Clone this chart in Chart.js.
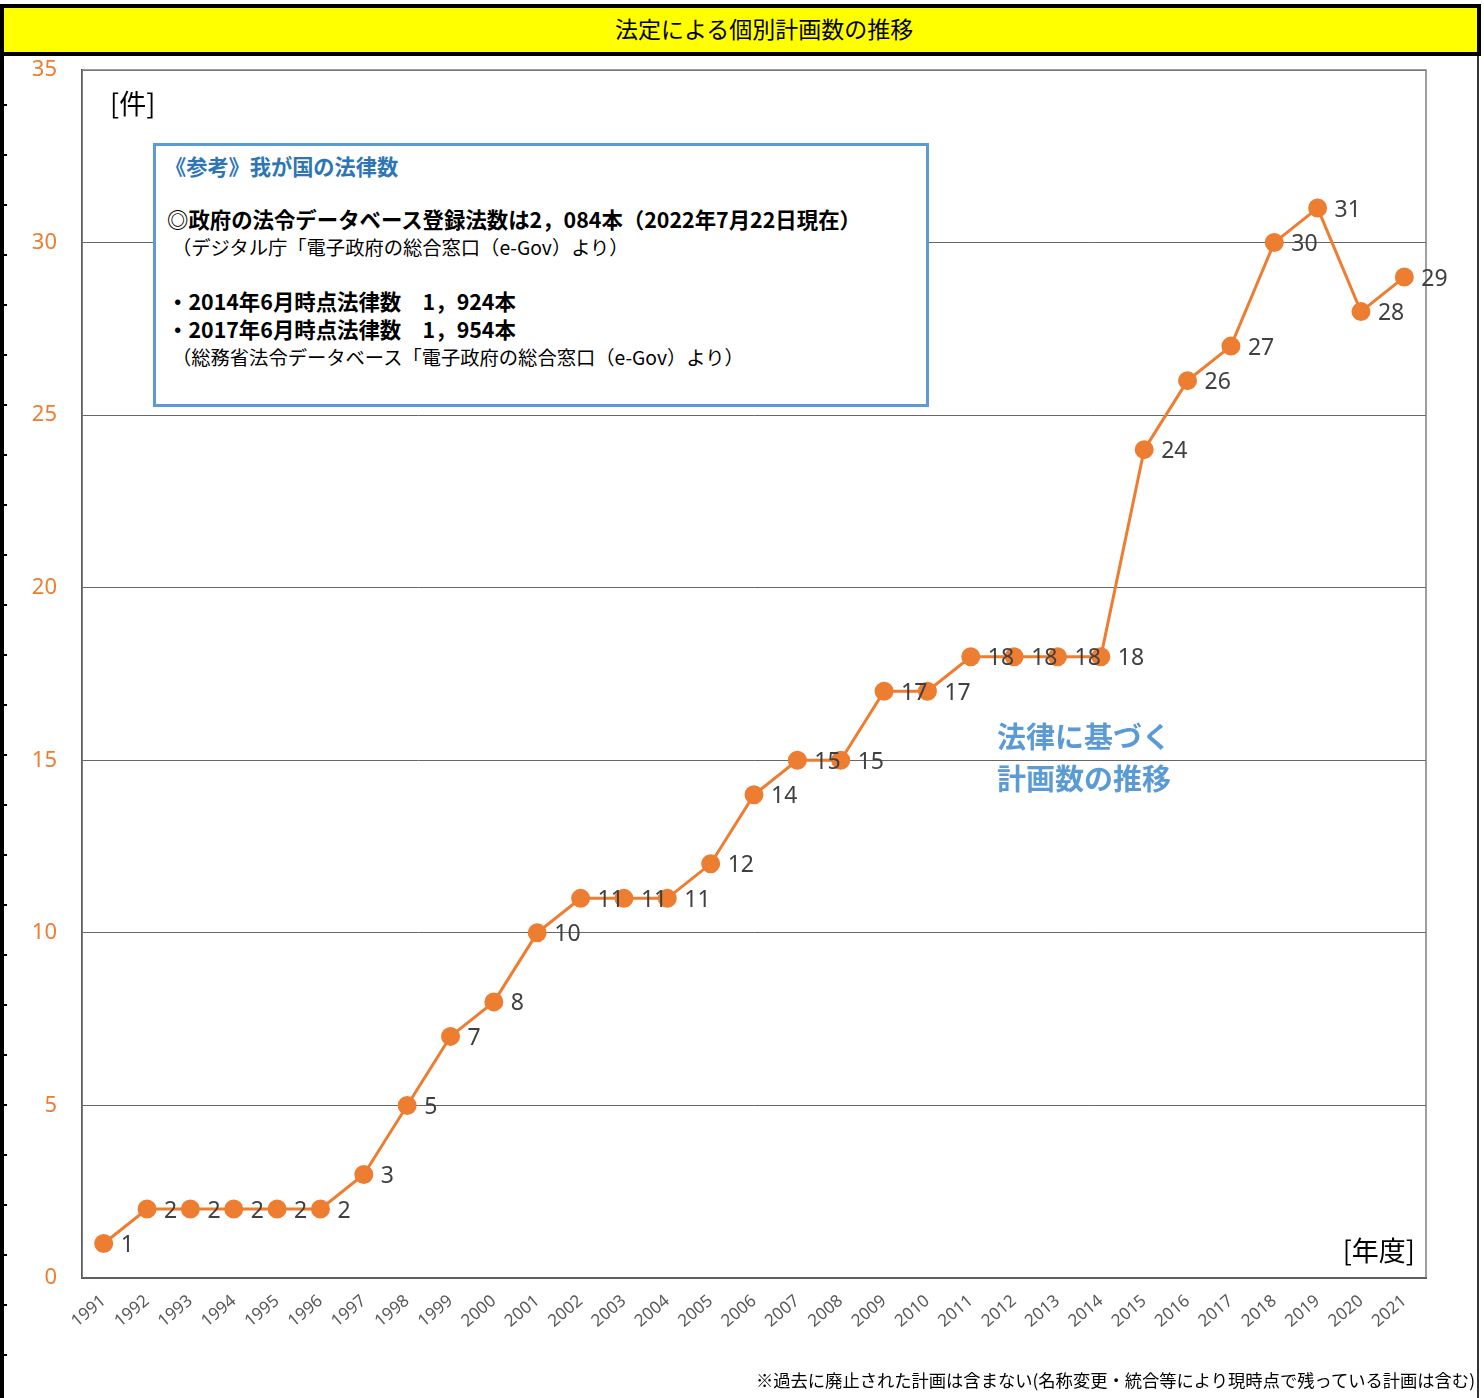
<!DOCTYPE html>
<html lang="ja">
<head>
<meta charset="utf-8">
<title>法定による個別計画数の推移</title>
<script src="https://cdn.jsdelivr.net/npm/chart.js@4.4.1/dist/chart.umd.min.js"></script>
<style>
  html, body { margin: 0; padding: 0; background: #fff; }
  body { width: 1484px; height: 1398px; position: relative; overflow: hidden;
         font-family: "Noto Sans CJK JP", "Noto Sans", sans-serif; }
  #chart { position: absolute; left: 0; top: 0; }
  .abs { position: absolute; white-space: nowrap; }
  #titleBar { left: 0; top: 4px; width: 1481px; height: 52px; box-sizing: border-box;
              border: 4px solid #000; background: #ffff00; }
  #titleText { left: 615px; top: 10px; font-size: 23px; line-height: 36px; color: #000; }
  #leftLine { left: 0; top: 56px; width: 4px; height: 1342px; background: #000; }
  #leftTicks { left: 4px; top: 104px; width: 3px; height: 1294px;
               background: repeating-linear-gradient(to bottom, #000 0, #000 2px, transparent 2px, transparent 50px); }
  #rightLine { left: 1477px; top: 56px; width: 2px; height: 1342px; background: #333; }
  #noteBox { left: 153px; top: 143px; width: 776px; height: 264px; box-sizing: border-box;
             border: 3px solid #5b9bd5; background: #fff; }
  .box { line-height: 28px; color: #000; }
  .bold { font-weight: bold; font-size: 21.4px; }
  .thin { font-size: 19.3px; }
  #boxHead { left: 165px; top: 152px; font-size: 21.2px; font-weight: bold; color: #2e75b6; line-height: 28px; }
  .unit { font-size: 27px; line-height: 32px; color: #000; }
  .series { font-size: 29px; font-weight: bold; color: #5b9bd5; line-height: 42px; }
  #foot { right: 9px; top: 1368px; font-size: 17.3px; line-height: 24px; color: #000; }
</style>
</head>
<body>
<canvas id="chart" width="1484" height="1398"></canvas>

<div class="abs" id="titleBar"></div>
<div class="abs" id="titleText">法定による個別計画数の推移</div>
<div class="abs" id="leftLine"></div>
<div class="abs" id="leftTicks"></div>
<div class="abs" id="rightLine"></div>

<div class="abs unit" style="left:110px; top:87px;">[件]</div>
<div class="abs unit" style="right:69px; top:1234px;">[年度]</div>

<div class="abs" id="noteBox"></div>
<div class="abs" id="boxHead">《参考》我が国の法律数</div>
<div class="abs box bold" style="left:167px; top:205px;">◎政府の法令データベース登録法数は2，084本（2022年7月22日現在）</div>
<div class="abs box thin" style="left:172px; top:233px;">（デジタル庁「電子政府の総合窓口（e-Gov）より）</div>
<div class="abs box bold" style="left:167px; top:287px;">・2014年6月時点法律数　1，924本</div>
<div class="abs box bold" style="left:167px; top:315px;">・2017年6月時点法律数　1，954本</div>
<div class="abs box thin" style="left:172px; top:343px;">（総務省法令データベース「電子政府の総合窓口（e-Gov）より）</div>

<div class="abs series" style="left:997px; top:714px;">法律に基づく</div>
<div class="abs series" style="left:997px; top:756px;">計画数の推移</div>

<div class="abs" id="foot">※過去に廃止された計画は含まない(名称変更・統合等により現時点で残っている計画は含む)</div>

<script>
const years = ['1991', '1992', '1993', '1994', '1995', '1996', '1997', '1998', '1999', '2000',
  '2001', '2002', '2003', '2004', '2005', '2006', '2007', '2008', '2009', '2010',
  '2011', '2012', '2013', '2014', '2015', '2016', '2017', '2018', '2019', '2020', '2021'];
const plans = [1, 2, 2, 2, 2, 2, 3, 5, 7, 8,
  10, 11, 11, 11, 12, 14, 15, 15, 17, 17,
  18, 18, 18, 18, 24, 26, 27, 30, 31, 28, 29];
const yMin = 0;
const yMax = 35;
const yStep = 5;

const orange = '#ed7d31';

// value labels to the right of each marker
const pointLabels = {
  id: 'pointLabels',
  afterDatasetsDraw(chart) {
    const ctx = chart.ctx;
    const meta = chart.getDatasetMeta(0);
    ctx.save();
    ctx.font = '23px "Noto Sans", sans-serif';
    ctx.fillStyle = '#404040';
    ctx.textAlign = 'left';
    ctx.textBaseline = 'middle';
    meta.data.forEach((pt, i) => {
      ctx.fillText(String(plans[i]), pt.x + 17, pt.y + 2);
    });
    ctx.restore();
  }
};

// grey frame round the plot area
const plotFrame = {
  id: 'plotFrame',
  beforeDatasetsDraw(chart) {
    const { ctx, chartArea: a } = chart;
    ctx.save();
    ctx.strokeStyle = '#7f7f7f';
    ctx.lineWidth = 1.5;
    ctx.strokeRect(a.left, a.top, a.right - a.left, a.bottom - a.top);
    ctx.restore();
  }
};

new Chart(document.getElementById('chart'), {
  type: 'line',
  data: {
    labels: years,
    datasets: [{
      data: plans,
      borderColor: orange,
      backgroundColor: orange,
      borderWidth: 3,
      pointRadius: 8,
      pointHoverRadius: 8,
      pointBackgroundColor: orange,
      pointBorderColor: orange,
      tension: 0,
    }],
  },
  options: {
    responsive: false,
    animation: false,
    events: [],
    layout: { padding: { top: 70, left: 0, right: 58, bottom: 60 } },
    plugins: {
      legend: { display: false },
      tooltip: { enabled: false },
      title: { display: false },
    },
    scales: {
      x: {
        offset: true,
        grid: { display: false, drawTicks: false },
        border: { display: true, color: '#000', width: 2 },
        ticks: {
          autoSkip: false,
          minRotation: 40,
          maxRotation: 40,
          padding: 13,
          color: '#595959',
          font: { family: '"Noto Sans", sans-serif', size: 17 },
        },
        afterFit(scale) { scale.height = 60; },
      },
      y: {
        min: yMin,
        max: yMax,
        grid: {
          color: '#666',
          lineWidth: 1,
          drawTicks: false,
        },
        border: { display: true, color: '#000', width: 1.5 },
        ticks: {
          stepSize: yStep,
          padding: 25,
          color: orange,
          font: { family: '"Noto Sans", sans-serif', size: 22 },
        },
        afterFit(scale) { scale.width = 82; },
      },
    },
  },
  plugins: [plotFrame, pointLabels],
});
</script>
</body>
</html>
